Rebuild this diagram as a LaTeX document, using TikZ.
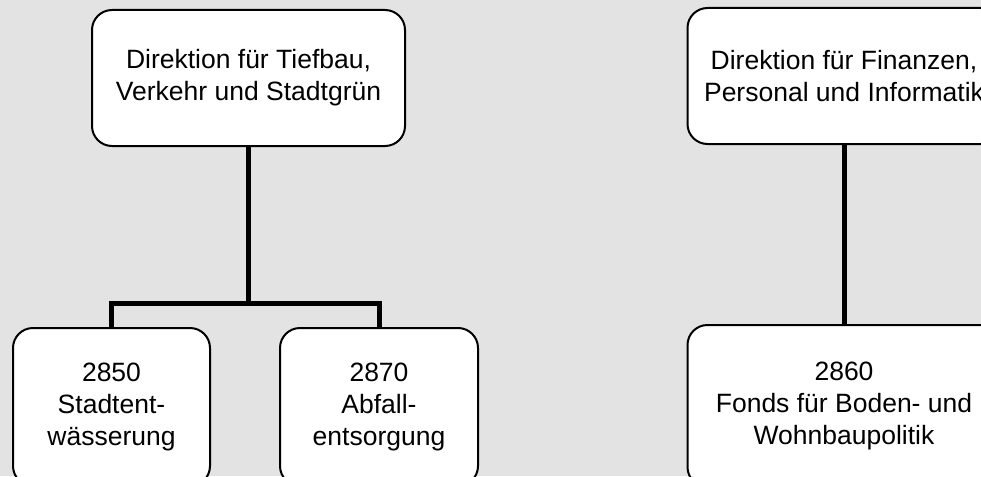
\documentclass[tikz,border=0pt]{standalone}
\usepackage{fontspec}
\setmainfont{Liberation Sans}
\usepackage{tikz}
\usetikzlibrary{positioning,calc}
\definecolor{cBack}{RGB}{227,227,227}

\begin{document}
\begin{tikzpicture}[x=1pt,y=-1pt,every node/.style={font=\fontsize{26.5}{32}\selectfont},
    unit/.style={draw,line width=2pt,rounded corners=20pt,fill=white,align=center,inner sep=0pt},
    link/.style={line width=5pt,line join=miter}]
  \useasboundingbox (0,0) rectangle (981,476);
  \clip (0,0) rectangle (981,476);
  \fill[cBack] (0,0) rectangle (981,476);
  \node[unit,minimum width=313pt,minimum height=136pt] (tief) at (248.5,78) {Direktion für Tiefbau,\\Verkehr und Stadtgrün};
  \node[unit,minimum width=313pt,minimum height=136pt] (fin) at (844,76) {Direktion für Finanzen,\\Personal und Informatik};
  \node[unit,minimum width=197pt,minimum height=158pt] (entw) at (111.5,407) {2850\\Stadtent-\\wässerung};
  \node[unit,minimum width=198pt,minimum height=158pt] (abf) at (379,407) {2870\\Abfall-\\entsorgung};
  \node[unit,minimum width=313pt,minimum height=162pt] (fonds) at (844,406) {2860\\Fonds für Boden- und\\Wohnbaupolitik};
  \coordinate (fork) at (248.5,303);
  \draw[link] (tief.south) -- (fork);
  \draw[link] (entw.north) |- (fork) -| (abf.north);
  \draw[link] (fin.south) -- (fonds.north);
\end{tikzpicture}
\end{document}
